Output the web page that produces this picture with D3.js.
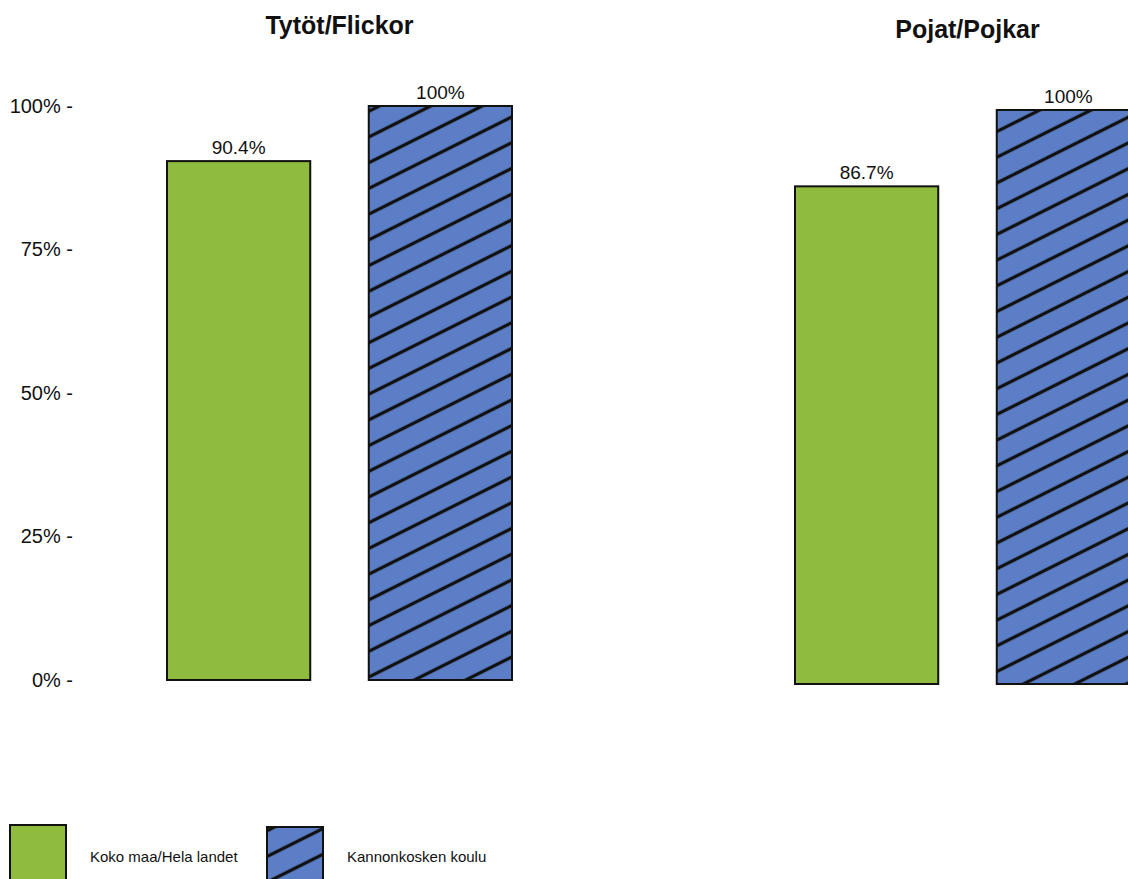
<!DOCTYPE html>
<html>
<head>
<meta charset="utf-8">
<script src="https://cdn.jsdelivr.net/npm/d3@7"></script>
<style>
  html, body { margin: 0; padding: 0; background: #fff; }
  svg { display: block; font-family: "Liberation Sans", Arial, Helvetica, sans-serif; }
</style>
</head>
<body>
<svg id="chart" width="1128" height="879"></svg>
<script>
// ---- data ----
const panels = ["Tytöt/Flickor", "Pojat/Pojkar"];
const series = ["Koko maa/Hela landet", "Kannonkosken koulu"];
const kokoMaa = [90.4, 86.7];
const kannonkoski = [100, 100];
const valueLabels = [["90.4%", "100%"], ["86.7%", "100%"]];
const yTicks = [0, 25, 50, 75, 100];

const green = "#8fbc3e";
const blue = "#5b7ec6";

const svg = d3.select("#chart");
const defs = svg.append("defs");

// diagonal hatch pattern (blue with black lines)
const pat = defs.append("pattern")
  .attr("id", "hatch")
  .attr("patternUnits", "userSpaceOnUse")
  .attr("width", 23).attr("height", 23)
  .attr("patternTransform", "rotate(-26.57)");
pat.append("rect").attr("width", 23).attr("height", 23).attr("fill", blue);
pat.append("line").attr("x1", 0).attr("x2", 23).attr("y1", 11.5).attr("y2", 11.5)
  .attr("stroke", "#111").attr("stroke-width", 3.3);

const fills = [green, "url(#hatch)"];

// panel geometry
const panelRanges = [[167, 512], [795, 1140]];
const panelBase = [[680, 106], [684, 110]];
const titleY = [34, 38];

panels.forEach((p, i) => {
  const x = d3.scaleBand().domain(series).range(panelRanges[i]).paddingInner(0.29).paddingOuter(0);
  const y = d3.scaleLinear().domain([0, 100]).range(panelBase[i]);
  const g = svg.append("g");
  const vals = [kokoMaa[i], kannonkoski[i]];

  g.selectAll("rect.bar").data(series).join("rect")
    .attr("class", "bar")
    .attr("x", d => x(d))
    .attr("width", x.bandwidth())
    .attr("y", (d, j) => y(vals[j]))
    .attr("height", (d, j) => y(0) - y(vals[j]))
    .attr("fill", (d, j) => fills[j])
    .attr("stroke", "#111")
    .attr("stroke-width", 2);

  g.selectAll("text.val").data(series).join("text")
    .attr("class", "val")
    .attr("x", d => x(d) + x.bandwidth() / 2)
    .attr("y", (d, j) => y(vals[j]) - 7)
    .attr("text-anchor", "middle")
    .attr("font-size", 19)
    .attr("fill", "#111")
    .text((d, j) => valueLabels[i][j]);

  g.append("text")
    .attr("x", (panelRanges[i][0] + panelRanges[i][1]) / 2)
    .attr("y", titleY[i])
    .attr("text-anchor", "middle")
    .attr("font-size", 25)
    .attr("font-weight", "bold")
    .attr("fill", "#111")
    .text(p);

  if (i === 0) {
    const axis = d3.axisLeft(y).tickValues(yTicks).tickSize(0).tickPadding(0)
      .tickFormat(d => d + "% -");
    const ag = svg.append("g").attr("transform", "translate(73,0)").call(axis);
    ag.select(".domain").remove();
    ag.selectAll("text").attr("font-size", 20).attr("fill", "#111")
      .attr("font-family", "'Liberation Sans', Arial, sans-serif");
  }
});

// legend
const legendX = [10, 267];
const legendY = [825, 827];
const legendTextX = [90, 347];
const lg = svg.append("g");
series.forEach((s, j) => {
  lg.append("rect")
    .attr("x", legendX[j]).attr("y", legendY[j])
    .attr("width", 56).attr("height", 60)
    .attr("fill", fills[j]).attr("stroke", "#111").attr("stroke-width", 2);
  lg.append("text")
    .attr("x", legendTextX[j]).attr("y", 862)
    .attr("font-size", 15).attr("fill", "#111")
    .text(s);
});
</script>
</body>
</html>
